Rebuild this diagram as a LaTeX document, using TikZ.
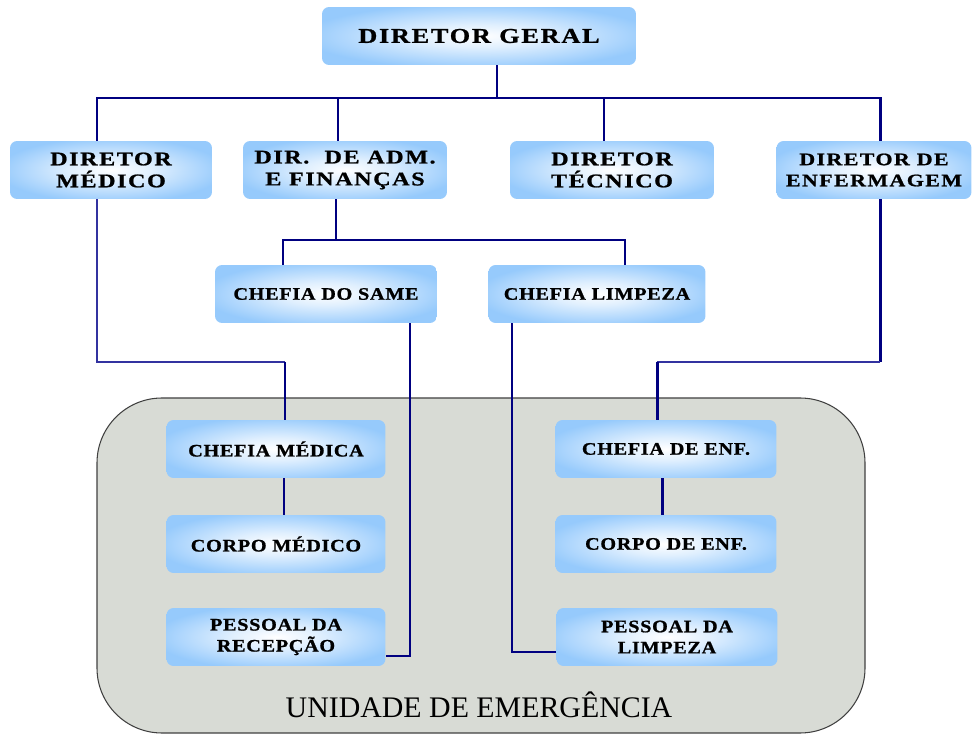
\documentclass[tikz,border=0pt]{standalone}
\usepackage{fontspec}
\setmainfont{Liberation Serif}
\newfontfamily\boxfont[FakeStretch=1.25,LetterSpace=8,FakeBold=1]{Liberation Serif}
\newfontfamily\chefefont[FakeStretch=1.15,LetterSpace=4,FakeBold=1]{Liberation Serif}
\usepackage{tikz}

\definecolor{boxblue}{RGB}{150,202,252}
\definecolor{linenavy}{RGB}{0,0,128}
\definecolor{thinblue}{RGB}{50,50,160}
\definecolor{unitgray}{RGB}{216,219,213}
\pgfdeclareradialshading{boxglow}{\pgfpoint{0bp}{0bp}}{%
  color(0bp)=(white); color(10bp)=(white!70!boxblue); color(28bp)=(boxblue); color(50bp)=(boxblue)}

\begin{document}
\begin{tikzpicture}[
  x=0.02cm, y=-0.02cm,
  box/.style={rounded corners=4pt, shading=boxglow, align=center, inner sep=2pt,
              minimum height=1.16cm, font=\boxfont\bfseries\fontsize{11}{12.5}\selectfont},
  chefe/.style={box, font=\chefefont\bfseries\fontsize{10}{12}\selectfont},
  link/.style={draw=linenavy, line width=1.7pt},
  thinlink/.style={draw=thinblue, line width=0.6pt}
]
\useasboundingbox (0,0) rectangle (974,736);

% unidade de emergencia
\filldraw[fill=unitgray, draw=black!75, line width=0.6pt, rounded corners=1.3cm]
  (97,398) rectangle (865,733);
\node (unit) at (479,705) {\fontsize{17}{19}\selectfont UNIDADE DE EMERGÊNCIA};

\node[box, minimum width=6.28cm, font=\boxfont\bfseries\fontsize{12}{14}\selectfont] (dg) at (479,36) {DIRETOR GERAL};

\node[box, minimum width=4.04cm] (dmed) at (111,170) {DIRETOR\\MÉDICO};
\node[box, minimum width=4.08cm] (dadm) at (345,170) {DIR.\ \ DE ADM.\\E FINANÇAS};
\node[box, minimum width=4.08cm] (dtec) at (612,170) {DIRETOR\\TÉCNICO};
\node[box, minimum width=3.90cm, font=\boxfont\bfseries\fontsize{10}{12}\selectfont] (denf) at (874,170) {DIRETOR DE\\ENFERMAGEM};

\node[chefe, minimum width=4.44cm] (same) at (326,294) {CHEFIA DO SAME};
\node[chefe, minimum width=4.34cm] (limp) at (597,294) {CHEFIA LIMPEZA};

\node[chefe, minimum width=4.38cm] (cmed)  at (276,449) {CHEFIA MÉDICA};
\node[chefe, minimum width=4.38cm] (corpm) at (276,544) {CORPO MÉDICO};
\node[chefe, minimum width=4.38cm] (pesr)  at (276,637) {PESSOAL DA\\RECEPÇÃO};
\node[chefe, minimum width=4.42cm] (cenf)  at (666,449) {CHEFIA DE ENF.};
\node[chefe, minimum width=4.42cm] (corpe) at (666,544) {CORPO DE ENF.};
\node[chefe, minimum width=4.42cm] (pesl)  at (667,637) {PESSOAL DA\\LIMPEZA};

% barramentos
\coordinate (busL) at (97,98);
\coordinate (busR) at (880,98);
\coordinate (dgdrop) at (497,98);
\coordinate (admdrop) at (338,98);
\coordinate (tecdrop) at (604,98);
\coordinate (admout) at (336,240);
\coordinate (bus2L) at (283,240);
\coordinate (bus2R) at (625,240);
\coordinate (medknee) at (97,362);
\coordinate (medturn) at (285,362);
\coordinate (enfknee) at (880,362);
\coordinate (enfturn) at (657,362);
\coordinate (samek) at (410,656);
\coordinate (limpk) at (512,652);

\draw[link] (dgdrop |- dg.south) -- (dgdrop);
\draw[link] (busL |- dmed.north) -- (busL) -- (busR) -- (busR |- denf.north);
\draw[link] (admdrop) -- (admdrop |- dadm.north);
\draw[link] (tecdrop) -- (tecdrop |- dtec.north);

\draw[link] (admout |- dadm.south) -- (admout);
\draw[link] (bus2L |- same.north) -- (bus2L) -- (bus2R) -- (bus2R |- limp.north);

\draw[thinlink] (medknee |- dmed.south) -- (medknee) -- (medturn);
\draw[link] (medturn) -- (medturn |- cmed.north);
\draw[link] (enfknee |- denf.south) -- (enfknee);
\draw[thinlink] (enfknee) -- (enfturn);
\draw[link] (enfturn) -- (enfturn |- cenf.north);

\draw[link] ([xshift=.16cm]cmed.south) -- ([xshift=.16cm]corpm.north);
\draw[link] ([xshift=-.08cm]cenf.south) -- ([xshift=-.08cm]corpe.north);

\draw[link] (samek |- same.south) -- (samek) -- (samek -| pesr.east);
\draw[link] (limpk |- limp.south) -- (limpk) -- (limpk -| pesl.west);
\end{tikzpicture}
\end{document}
